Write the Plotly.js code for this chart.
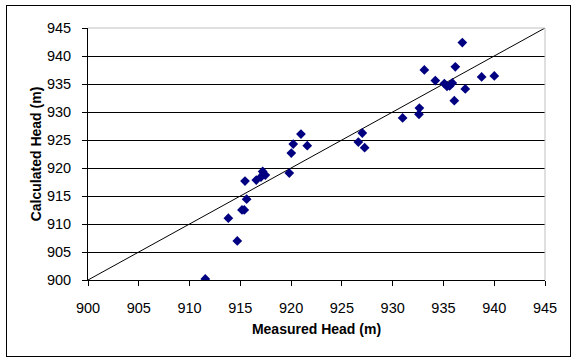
<!DOCTYPE html>
<html>
<head>
<meta charset="utf-8">
<script src="https://cdn.plot.ly/plotly-3.0.1.min.js"></script>
<style>
  html, body { margin: 0; padding: 0; background: #fff; }
  #wrap { position: relative; width: 574px; height: 361px; }
  #frame { position: absolute; left: 6px; top: 5px; width: 563px; height: 350px; border: 1px solid #000; }
  #chart { position: absolute; left: 0; top: 0; width: 574px; height: 361px; }
</style>
</head>
<body>
<div id="wrap"><div id="frame"></div><div id="chart"></div></div>
<script>
// Measured vs calculated head (m)
const measured = [911.55, 913.82, 914.70, 915.16, 915.39, 915.62, 915.46, 916.57, 917.03, 917.20,
                  917.27, 917.46, 919.82, 920.02, 920.21, 920.97, 921.59, 926.62, 927.01, 927.24,
                  930.98, 932.59, 932.63, 933.12, 934.20, 935.09, 935.35, 935.61, 935.87, 936.07,
                  936.17, 936.86, 937.15, 938.76, 940.01];
const calculated = [900.18, 911.03, 906.98, 912.52, 912.52, 914.44, 917.66, 917.84, 918.38, 919.38,
                    918.88, 918.73, 919.09, 922.67, 924.28, 926.07, 923.98, 924.64, 926.25, 923.62,
                    928.93, 929.58, 930.71, 937.52, 935.61, 935.07, 934.59, 934.66, 935.19, 932.03,
                    938.06, 942.40, 934.12, 936.27, 936.45];
const lineX = [900, 945];
const lineY = [900, 945];
const tickVals = [900, 905, 910, 915, 920, 925, 930, 935, 940, 945];

const FONT = "Arial, 'Liberation Sans', sans-serif";

const traces = [
  { x: lineX, y: lineY, mode: 'lines', type: 'scatter',
    line: { color: '#000', width: 1 }, hoverinfo: 'skip', showlegend: false },
  { x: measured, y: calculated, mode: 'markers', type: 'scatter',
    marker: { symbol: 'diamond', size: 7.5, color: '#000080' }, showlegend: false }
];

const axisCommon = {
  range: [900, 945], tickvals: tickVals, ticktext: tickVals.map(String),
  showline: true, linecolor: '#000', linewidth: 1,
  ticks: 'outside', ticklen: 5, tickcolor: '#000', tickwidth: 1,
  zeroline: false, tickfont: { family: FONT, size: 14.5, color: '#000' }
};

const layout = {
  width: 574, height: 361,
  margin: { l: 88, r: 29, t: 28, b: 81 },
  paper_bgcolor: 'rgba(0,0,0,0)', plot_bgcolor: '#fff',
  showlegend: false,
  xaxis: Object.assign({}, axisCommon, {
    showgrid: false, ticklabelstandoff: 10,
    title: { text: 'Measured Head (m)', font: { family: FONT, size: 14, color: '#000', weight: 'bold' }, standoff: 8 }
  }),
  yaxis: Object.assign({}, axisCommon, {
    showgrid: true, gridcolor: '#000', gridwidth: 1, ticklabelstandoff: 8,
    title: { text: 'Calculated Head (m)', font: { family: FONT, size: 14, color: '#000', weight: 'bold' }, standoff: 1 }
  }),
  shapes: [
    { type: 'line', xref: 'paper', yref: 'paper', x0: 0, x1: 1, y0: 1, y1: 1, line: { color: '#c0c0c0', width: 1 }, layer: 'above' },
    { type: 'line', xref: 'paper', yref: 'paper', x0: 1, x1: 1, y0: 0, y1: 1, line: { color: '#c0c0c0', width: 1 }, layer: 'above' }
  ]
};

Plotly.newPlot('chart', traces, layout, { displayModeBar: false, staticPlot: true });
</script>
</body>
</html>
